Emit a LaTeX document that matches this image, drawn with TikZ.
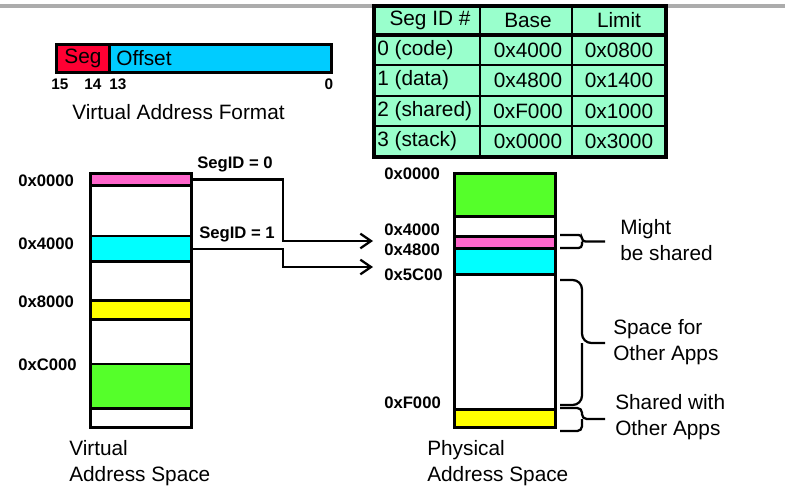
\documentclass[tikz,border=0pt]{standalone}
\usepackage{fontspec}
\setmainfont{Liberation Sans}
\usetikzlibrary{arrows.meta}

\definecolor{tablegreen}{RGB}{153,255,204}
\definecolor{segred}{RGB}{255,0,51}
\definecolor{offsetblue}{RGB}{0,204,255}
\definecolor{codepink}{RGB}{255,102,204}
\definecolor{datacyan}{RGB}{0,255,255}
\definecolor{sharedyellow}{RGB}{255,255,0}
\definecolor{stackgreen}{RGB}{85,255,42}

\newcommand{\bigtext}{\fontsize{15.6}{19.5}\selectfont}
\newcommand{\addrtext}{\bfseries\fontsize{12.5}{15}\selectfont}
\newcommand{\bittext}{\bfseries\fontsize{11.5}{13}\selectfont}

\begin{document}
\begin{tikzpicture}[x=0.75pt,y=-0.75pt,
    mem/.style={draw, line width=2.2pt, minimum width=101*0.75pt, inner sep=0pt, anchor=north west},
    addr/.style={font=\addrtext, anchor=west, inner sep=0pt},
    lbl/.style={font=\bigtext, align=left, anchor=west, inner sep=0pt},
    cell/.style={font=\bigtext, inner sep=0pt},
    bit/.style={font=\bittext, inner sep=0pt},
    conn/.style={line width=1.7pt, -{Straight Barb[length=8pt,width=11pt]}},
    bracepath/.style={line width=1.7pt}]
\useasboundingbox (0,0) rectangle (785,489);

% Titelbalken
\draw[line width=3pt, gray!65] (0,6) -- (785,6);

% Segmenttabelle
\fill[tablegreen] (374,6) rectangle (666,157);
\foreach \y in {65,96,126}
    \draw[line width=1.2pt] (374,\y) -- (666,\y);
\draw[line width=1.2pt] (480,6) -- (480,157);
\draw[line width=1.2pt] (572,6) -- (572,157);
\draw[line width=2.4pt] (374,35) -- (666,35);
\draw[line width=2.4pt] (374,6) rectangle (666,157);

\node[cell] (seghead) at (430,20.5) {Seg ID \#};
\node[cell] (basehead) at (528,20.5) {Base};
\node[cell] (limithead) at (619,20.5) {Limit};
\foreach \sid/\sname/\sbase/\slimit [count=\i from 0] in
    {0/code/0x4000/0x0800, 1/data/0x4800/0x1400, 2/shared/0xF000/0x1000, 3/stack/0x0000/0x3000}
{
    \pgfmathsetmacro{\ry}{50+30.5*\i}
    \node[cell, anchor=west] (segname\i) at (377,\ry) {\sid\ (\sname)};
    \node[cell] (segbase\i) at (528,\ry) {\sbase};
    \node[cell] (seglimit\i) at (619,\ry) {\slimit};
}

% Adressformat
\node[draw, line width=2.2pt, fill=segred, font=\bigtext, minimum width=53*0.75pt,
    minimum height=28*0.75pt, inner sep=0pt, anchor=north west] (segfield) at (55,43) {Seg};
\node[draw, line width=2.2pt, fill=offsetblue, font=\bigtext, text width=208*0.75pt,
    inner xsep=7*0.75pt, inner ysep=0pt, minimum height=28*0.75pt, align=left,
    anchor=north west] (offsetfield) at (108,43) {Offset};
\node[bit] (bit15) at (60,84) {15};
\node[bit] (bit14) at (93,84) {14};
\node[bit] (bit13) at (118,84) {13};
\node[bit] (bit0) at (329,84) {0};
\node[cell] (formatlbl) at (178.5,112) {Virtual Address Format};

% Virtueller Adressraum
\node[mem, minimum height=254*0.75pt] (vspace) at (89,172) {};
\node[mem, fill=codepink, minimum height=12*0.75pt] (vcode) at (89,172) {};
\node[mem, fill=datacyan, minimum height=25.5*0.75pt] (vdata) at (89,234.5) {};
\node[mem, fill=sharedyellow, minimum height=19*0.75pt] (vshared) at (89,299) {};
\node[mem, fill=stackgreen, minimum height=44.5*0.75pt] (vstack) at (89,362.5) {};

\node[addr] (va0) at (18,181) {0x0000};
\node[addr] (va1) at (18,244) {0x4000};
\node[addr] (va2) at (18,302) {0x8000};
\node[addr] (va3) at (18,365) {0xC000};
\node[lbl] (vlbl) at (69,463) {Virtual\\Address Space};

% Physischer Adressraum
\node[mem, minimum height=254*0.75pt] (pspace) at (453,172) {};
\node[mem, fill=stackgreen, minimum height=43*0.75pt] (pstack) at (453,172) {};
\node[mem, fill=codepink, minimum height=12*0.75pt] (pcode) at (453,235) {};
\node[mem, fill=datacyan, minimum height=26*0.75pt] (pdata) at (453,247) {};
\node[mem, fill=sharedyellow, minimum height=18*0.75pt] (pshared) at (453,408) {};

\node[addr] (pa0) at (384,174) {0x0000};
\node[addr] (pa1) at (384,230) {0x4000};
\node[addr] (pa2) at (384,250) {0x4800};
\node[addr] (pa3) at (384,275) {0x5C00};
\node[addr] (pa4) at (384,403) {0xF000};
\node[lbl] (plbl) at (427,463) {Physical\\Address Space};

% Zuordnung
\coordinate (turn0) at (283,241);
\coordinate (in0) at (373,241);
\coordinate (turn1) at (283,267);
\coordinate (in1) at (373,267);
\draw[conn] (vcode.east) -| (turn0) -- (in0);
\draw[conn] (vdata.east) -| (turn1) -- (in1);
\node[font=\addrtext, inner sep=0pt] (segid0) at (235,164) {SegID = 0};
\node[font=\addrtext, inner sep=0pt] (segid1) at (237,234) {SegID = 1};

% Klammern
\draw[bracepath, rounded corners=2.5pt] (560,235) -| (582,241.5) -- (605,241.5);
\draw[bracepath, rounded corners=2.5pt] (560,248) -| (582,241.5);
\draw[bracepath, rounded corners=7pt] (560,280) -| (582,343) -- (605,343);
\draw[bracepath, rounded corners=7pt] (560,405) -| (582,343);
\draw[bracepath, rounded corners=3.5pt] (560,408) -| (582,419) -- (605,419);
\draw[bracepath, rounded corners=3.5pt] (560,431) -| (582,419);

\node[lbl, text depth=0pt] (sharednote) at (620,239.5) {Might\\be shared};
\node[lbl] (othernote) at (613,342) {Space for\\Other Apps};
\node[lbl] (sharedothers) at (615,417) {Shared with\\Other Apps};
\end{tikzpicture}
\end{document}
